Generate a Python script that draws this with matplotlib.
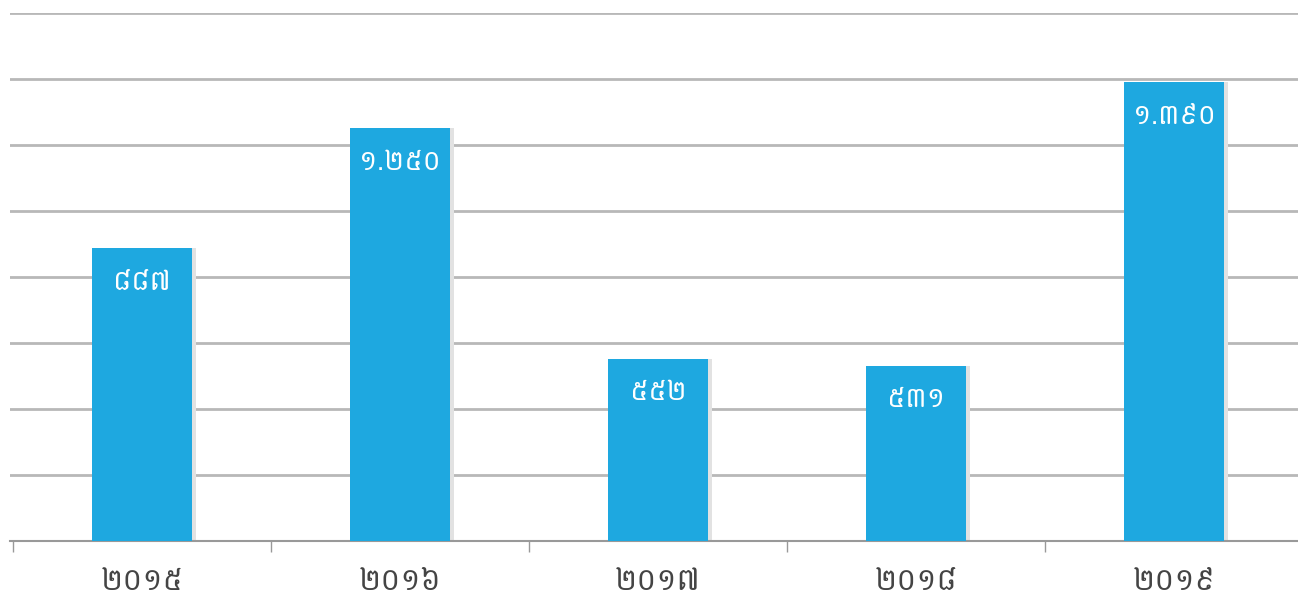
import matplotlib
matplotlib.use("Agg")
import matplotlib.pyplot as plt
from matplotlib import font_manager

years = ["២០១៥", "២០១៦", "២០១៧", "២០១៨", "២០១៩"]
values = [887, 1250, 552, 531, 1390]
value_labels = ["៨៨៧", "១.២៥០", "៥៥២", "៥៣១", "១.៣៩០"]

# look for any installed font with khmer glyphs
names = sorted(set(f.name for f in font_manager.fontManager.ttflist))
khmer = [n for n in names if "Khmer" in n or "Hanuman" in n or "Battambang" in n]
plt.rcParams["font.family"] = khmer + ["DejaVu Sans"]

bar_color = "#1ea8e0"
grid_color = "#b8b8b8"

fig = plt.figure(figsize=(12.98, 6.01), dpi=100)
ax = fig.add_axes([0.0077, 0.0998, 0.9923, 0.8786])

x = list(range(len(years)))
# soft shadow to the right of each bar
ax.bar([i + 0.012 for i in x], values, width=0.39, color="#e2e2e2", zorder=2)
ax.bar(x, values, width=0.39, color=bar_color, zorder=3)

for i, (v, lab) in enumerate(zip(values, value_labels)):
    ax.text(i, v - 103, lab, ha="center", va="center", color="white",
            fontsize=20, zorder=4)

ax.set_ylim(0, 1600)
ax.set_xlim(-0.512, 4.48)
ax.set_yticks(range(200, 1601, 200))
ax.yaxis.grid(True, color=grid_color, linewidth=2, zorder=0)
ax.tick_params(axis="y", left=False, labelleft=False)

ax.set_xticks([i - 0.5 for i in range(5)])
ax.set_xticklabels([])
ax.set_xticks(x, minor=True)
ax.set_xticklabels(years, minor=True, fontsize=22, color="#444444")
ax.tick_params(axis="x", which="major", length=8, width=1, color="#999999", direction="out")
ax.tick_params(axis="x", which="minor", length=0, pad=18)

for s in ["top", "right", "left"]:
    ax.spines[s].set_visible(False)
ax.spines["bottom"].set_color("#999999")
ax.spines["bottom"].set_linewidth(1.5)

fig.savefig("out.png", dpi=100)
